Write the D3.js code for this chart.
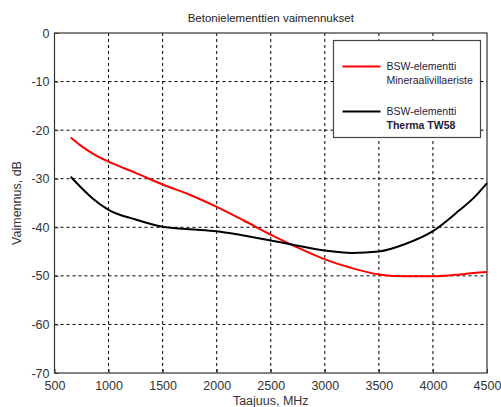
<!DOCTYPE html>
<html>
<head>
<meta charset="utf-8">
<script src="https://cdn.jsdelivr.net/npm/d3@7"></script>
<style>
  body { margin: 0; background: #fff; }
  text { font-family: Arial, "Liberation Sans", sans-serif; }
</style>
</head>
<body>
<script>
var svgWidth = 501;
var svgHeight = 407;

// frequencies (MHz) and attenuation (dB)
var freqs = [650, 750, 850, 1000, 1250, 1500, 1750, 2000, 2250, 2500, 2750, 3000, 3250, 3500, 3750, 4000, 4250, 4375, 4500];
var mineraali = [-21.5, -23.3, -24.8, -26.5, -28.8, -31.2, -33.3, -35.8, -38.6, -41.5, -44.2, -46.6, -48.4, -49.7, -50.1, -50.1, -49.7, -49.4, -49.2];
var therma = [-29.6, -31.9, -34.0, -36.4, -38.4, -39.9, -40.4, -40.8, -41.7, -42.7, -43.8, -44.8, -45.3, -45.0, -43.4, -40.8, -36.4, -34.0, -30.9];

var xTicks = [500, 1000, 1500, 2000, 2500, 3000, 3500, 4000, 4500];
var yTicks = [0, -10, -20, -30, -40, -50, -60, -70];
var seriesNames = [["BSW-elementti", "Mineraalivillaeriste"], ["BSW-elementti", "Therma TW58"]];
var seriesColors = ["#ff0000", "#000000"];

var margin = { top: 33, right: 14, bottom: 34, left: 54.5 };
var chartWidth = svgWidth - margin.left - margin.right;
var chartHeight = svgHeight - margin.top - margin.bottom;

var svg = d3.select("body")
  .append("svg")
  .attr("width", svgWidth)
  .attr("height", svgHeight);

var chartGroup = svg.append("g")
  .attr("transform", `translate(${margin.left}, ${margin.top})`);

var x = d3.scaleLinear().domain([500, 4500]).range([0, chartWidth]);
var y = d3.scaleLinear().domain([-70, 0]).range([chartHeight, 0]);

// dashed grid
chartGroup.selectAll(".vgrid")
  .data(xTicks.slice(1, -1))
  .enter()
  .append("line")
  .attr("x1", d => x(d)).attr("x2", d => x(d))
  .attr("y1", 0).attr("y2", chartHeight)
  .attr("stroke", "#000").attr("stroke-dasharray", "3,3").attr("stroke-width", 1);

chartGroup.selectAll(".hgrid")
  .data(yTicks.slice(1, -1))
  .enter()
  .append("line")
  .attr("x1", 0).attr("x2", chartWidth)
  .attr("y1", d => y(d)).attr("y2", d => y(d))
  .attr("stroke", "#000").attr("stroke-dasharray", "3,3").attr("stroke-width", 1);

// axes with inward ticks, plain hyphen minus and no thousands separator
var fmt = d => String(d);
var xAxis = chartGroup.append("g")
  .attr("transform", `translate(0, ${chartHeight})`)
  .call(d3.axisBottom(x).tickValues(xTicks).tickFormat(fmt).tickSizeInner(-4).tickSizeOuter(0).tickPadding(8));
var yAxis = chartGroup.append("g")
  .call(d3.axisLeft(y).tickValues(yTicks).tickFormat(fmt).tickSizeInner(-4).tickSizeOuter(0).tickPadding(5));

[xAxis, yAxis].forEach(function(a) {
  a.select(".domain").remove();
  a.selectAll("line").attr("stroke", "#333");
  a.selectAll("text").attr("font-size", 12.5).attr("fill", "#333")
    .attr("font-family", "Arial, 'Liberation Sans', sans-serif");
});

// frame
chartGroup.append("rect")
  .attr("width", chartWidth).attr("height", chartHeight)
  .attr("fill", "none").attr("stroke", "#333").attr("stroke-width", 1.2);

// curves
var line = d3.line()
  .x((d, i) => x(freqs[i]))
  .y(d => y(d))
  .curve(d3.curveMonotoneX);

[mineraali, therma].forEach(function(s, k) {
  chartGroup.append("path")
    .datum(s)
    .attr("d", line)
    .attr("fill", "none")
    .attr("stroke", seriesColors[k])
    .attr("stroke-width", 2);
});

// legend
var legend = svg.append("g").attr("transform", "translate(333.5, 40.5)");
legend.append("rect")
  .attr("width", 147).attr("height", 97)
  .attr("fill", "#fff").attr("stroke", "#444").attr("stroke-width", 1.2);

seriesNames.forEach(function(n, k) {
  var g = legend.append("g").attr("transform", `translate(0, ${26 + k * 45})`);
  g.append("line")
    .attr("x1", 9).attr("x2", 47).attr("y1", 0).attr("y2", 0)
    .attr("stroke", seriesColors[k]).attr("stroke-width", 2);
  g.append("text")
    .attr("x", 53).attr("y", 3.5)
    .attr("font-size", 10.5).attr("fill", "#1f1a3a")
    .attr("font-family", "'Open Sans', sans-serif")
    .text(n[0]);
  g.append("text")
    .attr("x", 53).attr("y", 17)
    .attr("font-size", 10.5).attr("fill", "#1f1a3a")
    .attr("font-family", "'Open Sans', sans-serif")
    .attr("font-weight", k === 1 ? "bold" : "normal")
    .text(n[1]);
});

// titles
svg.append("text")
  .attr("x", margin.left + chartWidth / 2).attr("y", 22)
  .attr("text-anchor", "middle").attr("font-size", 11.5).attr("fill", "#222")
  .text("Betonielementtien vaimennukset");

svg.append("text")
  .attr("x", margin.left + chartWidth / 2).attr("y", 405)
  .attr("text-anchor", "middle").attr("font-size", 12.5).attr("fill", "#333")
  .text("Taajuus, MHz");

svg.append("text")
  .attr("transform", `translate(21, ${margin.top + chartHeight / 2}) rotate(-90)`)
  .attr("text-anchor", "middle").attr("font-size", 12.5).attr("fill", "#333")
  .text("Vaimennus, dB");
</script>
</body>
</html>
